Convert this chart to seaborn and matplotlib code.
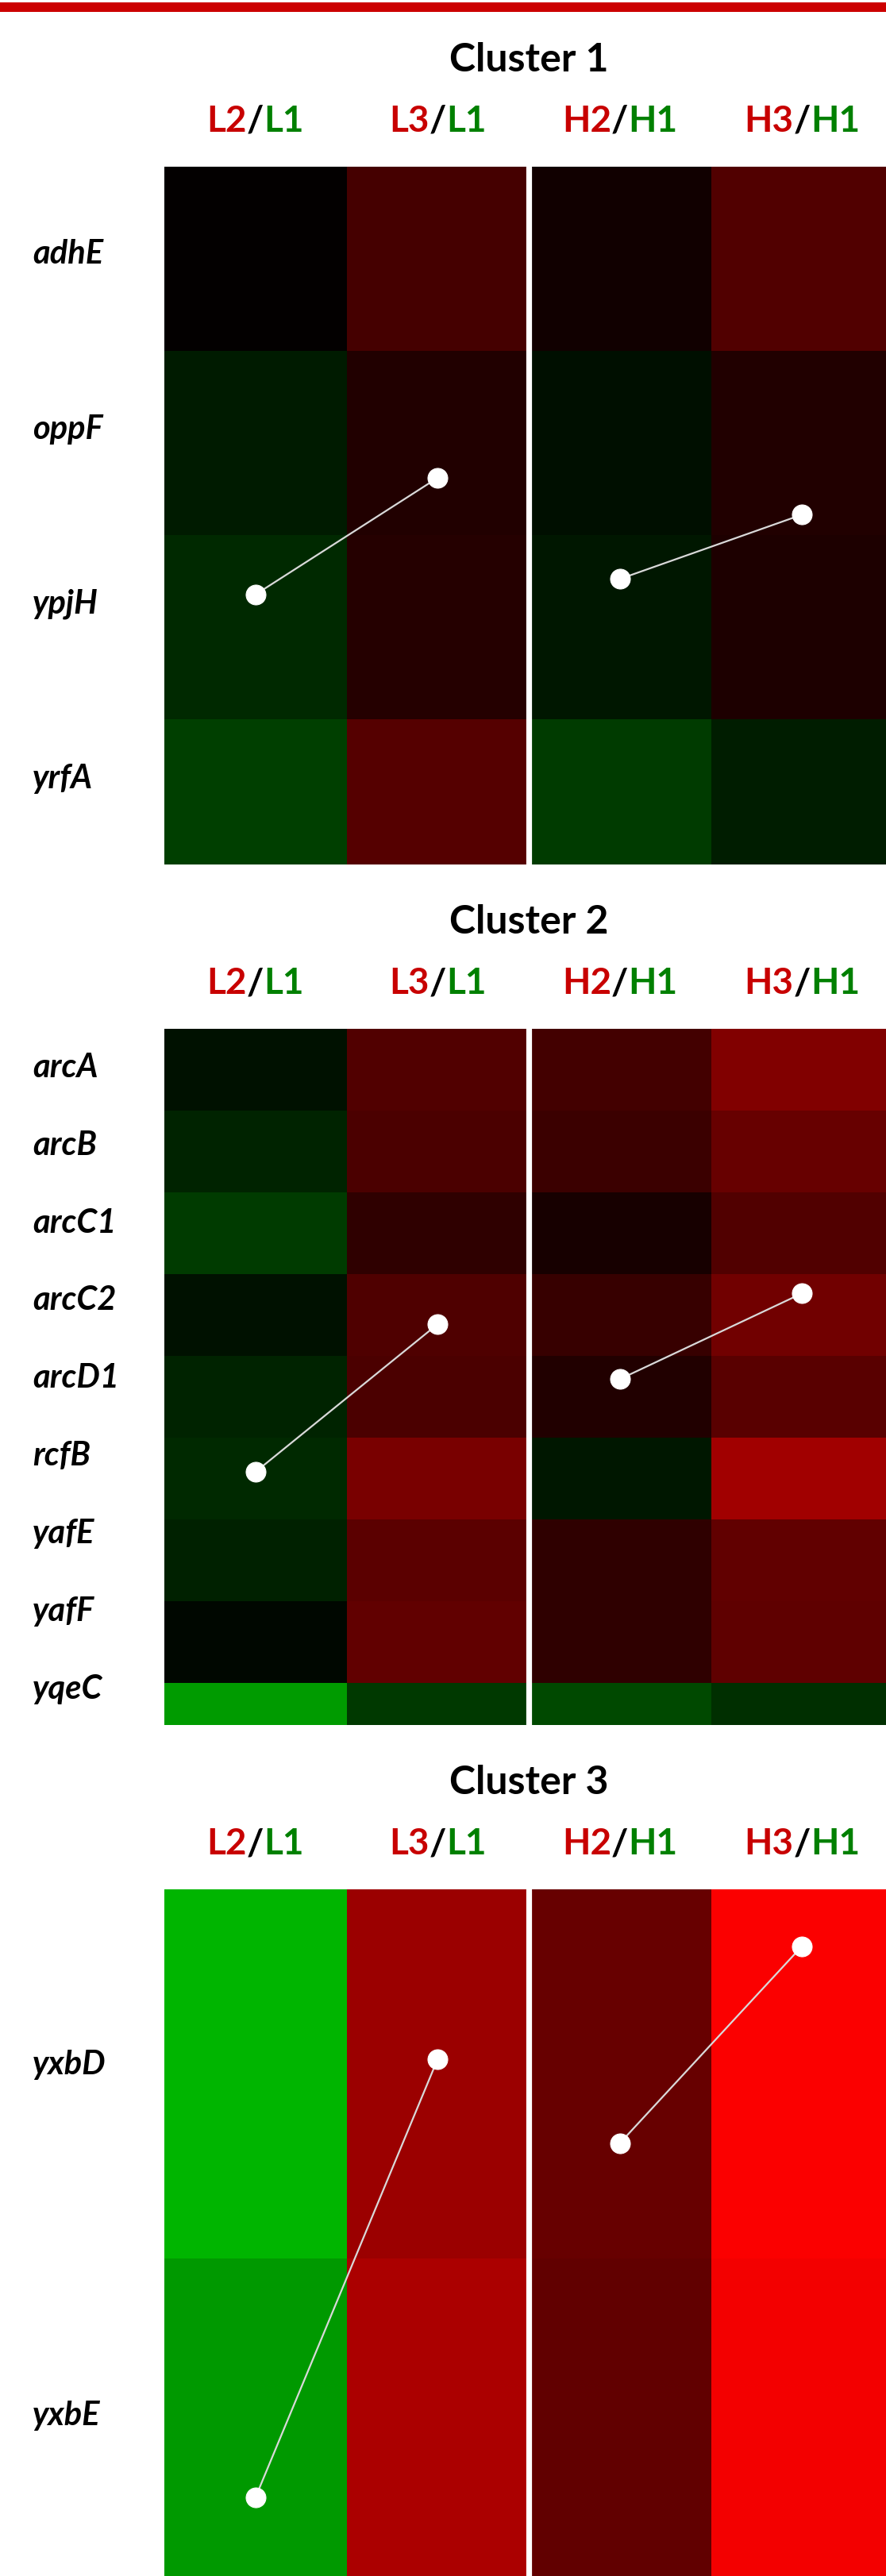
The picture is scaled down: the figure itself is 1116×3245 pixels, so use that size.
import numpy as np
import pandas as pd
import matplotlib
matplotlib.use('Agg')
import matplotlib.pyplot as plt
import seaborn as sns
from matplotlib.colors import LinearSegmentedColormap
from matplotlib.patches import Rectangle

# log2 ratios (green = down, red = up)
ratio_cols = ['L2/L1', 'L3/L1', 'H2/H1', 'H3/H1']

c1_genes = ['adhE', 'oppF', 'ypjH', 'yrfA']
c1_L2 = [0.03, -0.31, -0.47, -0.75]
c1_L3 = [0.80, 0.38, 0.44, 1.00]
c1_H2 = [0.19, -0.18, -0.28, -0.68]
c1_H3 = [0.94, 0.38, 0.35, -0.35]

c2_genes = ['arcA', 'arcB', 'arcC1', 'arcC2', 'arcD1', 'rcfB', 'yafE', 'yafF', 'yqeC']
c2_L2 = [-0.19, -0.40, -0.68, -0.21, -0.40, -0.47, -0.38, -0.09, -1.81]
c2_L3 = [0.96, 0.87, 0.56, 0.92, 0.87, 1.41, 1.06, 1.13, -0.66]
c2_H2 = [0.78, 0.68, 0.28, 0.64, 0.38, -0.28, 0.56, 0.56, -0.85]
c2_H3 = [1.51, 1.20, 0.94, 1.32, 1.04, 1.88, 1.13, 1.11, -0.56]

c3_genes = ['yxbD', 'yxbE']
c3_L2 = [-2.12, -1.79]
c3_L3 = [1.81, 2.00]
c3_H2 = [1.20, 1.13]
c3_H3 = [2.95, 2.85]

clusters = [
    ('Cluster 1', c1_genes, [c1_L2, c1_L3, c1_H2, c1_H3]),
    ('Cluster 2', c2_genes, [c2_L2, c2_L3, c2_H2, c2_H3]),
    ('Cluster 3', c3_genes, [c3_L2, c3_L3, c3_H2, c3_H3]),
]

# pixel layout: top of heatmap, row height, rows left visible (the picture crops the last row)
layout = [(210, 232, 3.79), (1296, 103, 8.51), (2380, 465, 1.86)]

W, H = 1116, 3245
HM_LEFT, HM_WIDTH = 207, 918

sns.set_style('white')
plt.rcParams['font.family'] = ['Lato', 'DejaVu Sans']
plt.rcParams['text.color'] = 'black'

cmap = LinearSegmentedColormap.from_list('gbr', ['#00ff00', '#000000', '#ff0000'])

fig = plt.figure(figsize=(W / 100, H / 100), dpi=100)
fig.patch.set_facecolor('white')


def px_axes(left, top, width, height):
    return fig.add_axes([left / W, 1 - (top + height) / H, width / W, height / H])


# red rule at the very top
fig.add_artist(Rectangle((0, 1 - 15 / H), 1, 12 / H, transform=fig.transFigure,
                         color='#cc0000', lw=0))

for (title, genes, cols), (top, row_px, n_vis) in zip(clusters, layout):
    df = pd.DataFrame(dict(zip(ratio_cols, cols)), index=genes)
    n = len(genes)

    ax = px_axes(HM_LEFT, top, HM_WIDTH, row_px * n_vis)
    sns.heatmap(df, ax=ax, cmap=cmap, vmin=-3, vmax=3, cbar=False,
                xticklabels=False, linewidths=0)
    ax.set_ylim(n_vis, 0)
    ax.axvline(2, color='white', lw=5.2)
    ax.set_yticks((np.arange(n) + 0.5) * 0.95)
    ax.set_yticklabels(genes, fontsize=30, fontweight='bold', fontstyle='italic',
                       ha='left', va='center', rotation=0, color='black')
    ax.tick_params(axis='y', length=0, pad=(HM_LEFT - 41) * 0.72)
    ax.set_xlabel('')
    ax.set_ylabel('')

    # cluster title and column headers
    fig.text((HM_LEFT + HM_WIDTH / 2) / W, 1 - (top - 135) / H, title,
             ha='center', va='center', fontsize=36, fontweight='bold', color='black')
    for j, lab in enumerate(ratio_cols):
        num, den = lab.split('/')
        cx = HM_LEFT + HM_WIDTH / 4 * (j + 0.5)
        slash = fig.text(cx / W, 1 - (top - 57) / H, '/', ha='center', va='center',
                         fontsize=33, fontweight='bold', color='black')
        ax.annotate(num, xy=(0, 0), xycoords=slash, ha='right', va='bottom',
                    fontsize=33, fontweight='bold', color='#c80000')
        ax.annotate(den, xy=(1, 0), xycoords=slash, ha='left', va='bottom',
                    fontsize=33, fontweight='bold', color='#008000')

    # mean profile of the cluster, drawn over the full (uncropped) heatmap height
    means = df.mean()
    ov = px_axes(HM_LEFT, top, HM_WIDTH, row_px * n)
    ov.patch.set_alpha(0)
    for a, b in [(0, 1), (2, 3)]:
        sns.lineplot(x=[a + 0.5, b + 0.5], y=[means.iloc[a], means.iloc[b]], ax=ov,
                     color='#d9d9d9', lw=1.6, marker='o', markersize=18,
                     markerfacecolor='white', markeredgecolor='white')
    ov.set_xlim(0, 4)
    ov.set_ylim(-3.1, 3.4)
    ov.axis('off')

fig.savefig('out.png', dpi=100, facecolor='white')
